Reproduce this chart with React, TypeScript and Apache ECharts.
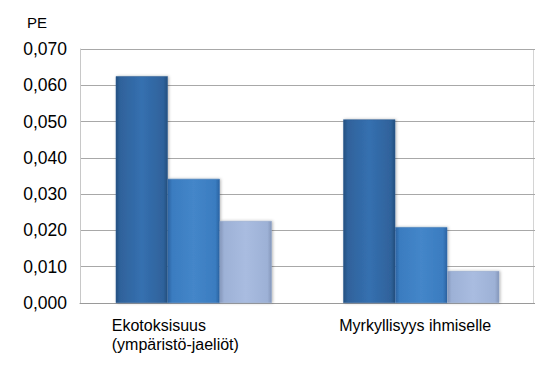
import React, { useEffect, useRef } from "react";
import * as echarts from "echarts";

const categories = ["Ekotoksisuus\n(ympäristö-jaeliöt)", "Myrkyllisyys ihmiselle"];
const series1 = [0.0625, 0.0506];
const series2 = [0.0342, 0.0209];
const series3 = [0.0226, 0.0088];
const yAxisName = "PE";

const font = "'Liberation Sans', Arial, sans-serif";

function bevel(edge: string, mid: string, center: string) {
  return new echarts.graphic.LinearGradient(0, 0, 1, 0, [
    { offset: 0, color: edge },
    { offset: 0.08, color: mid },
    { offset: 0.5, color: center },
    { offset: 0.92, color: mid },
    { offset: 1, color: edge },
  ]);
}

export default function App() {
  const ref = useRef<HTMLDivElement>(null);
  useEffect(() => {
    if (!ref.current) return;
    const chart = echarts.init(ref.current, undefined, { renderer: "svg" });
    const barCommon = {
      type: "bar" as const,
      barWidth: 52,
      barGap: "0%",
    };
    chart.setOption({
      animation: false,
      backgroundColor: "#ffffff",
      grid: { left: 80, top: 49, width: 469, height: 254, containLabel: false },
      title: {
        text: yAxisName,
        left: 22,
        top: 10,
        textStyle: { fontFamily: font, fontSize: 15, fontWeight: "normal", color: "#000" },
      },
      xAxis: {
        type: "category",
        data: categories,
        axisLine: { show: true, lineStyle: { color: "#9a9a9a", width: 1 } },
        axisTick: { show: false },
        axisLabel: {
          margin: 13,
          interval: 0,
          formatter: (v: string) => v.split("\n").map((s) => `{a|${s}}`).join("\n"),
          rich: {
            a: {
              width: 164,
              align: "left",
              fontFamily: font,
              fontSize: 16,
              lineHeight: 19,
              color: "#000",
            },
          },
        },
      },
      yAxis: {
        type: "value",
        min: 0,
        max: 0.07,
        interval: 0.01,
        axisLine: { show: true, lineStyle: { color: "#c8c8c8" } },
        axisTick: { show: false },
        splitLine: { lineStyle: { color: "#a8a8a8", width: 1.2 } },
        axisLabel: {
          margin: 13,
          fontFamily: font,
          fontSize: 17.5,
          color: "#000",
          formatter: (v: number) => v.toFixed(3).replace(".", ","),
        },
      },
      graphic: [
        {
          type: "line",
          shape: { x1: 533.5, y1: 49, x2: 533.5, y2: 303 },
          style: { stroke: "#d4d4d4", lineWidth: 1 },
        },
      ],
      series: [
        {
          ...barCommon,
          data: series1,
          itemStyle: {
            color: bevel("#24507f", "#2f629b", "#3570b0"),
            borderColor: "#2a5a90",
            borderWidth: 0.5,
            shadowColor: "rgba(0,0,0,0.3)",
            shadowBlur: 3,
            shadowOffsetX: 1,
          },
        },
        {
          ...barCommon,
          data: series2,
          itemStyle: {
            color: bevel("#2c64a3", "#3a7cc0", "#4486c9"),
            borderColor: "#336fb0",
            borderWidth: 0.5,
            shadowColor: "rgba(0,0,0,0.3)",
            shadowBlur: 3,
            shadowOffsetX: 1,
          },
        },
        {
          ...barCommon,
          data: series3,
          itemStyle: {
            color: bevel("#8597ba", "#9db1d6", "#a9bce0"),
            borderColor: "#93a6ca",
            borderWidth: 0.5,
            shadowColor: "rgba(0,0,0,0.3)",
            shadowBlur: 3,
            shadowOffsetX: 1,
          },
        },
      ],
    });
    return () => chart.dispose();
  }, []);
  return <div ref={ref} style={{ width: 535, height: 374, position: "fixed", left: 0, top: 0 }} />;
}
